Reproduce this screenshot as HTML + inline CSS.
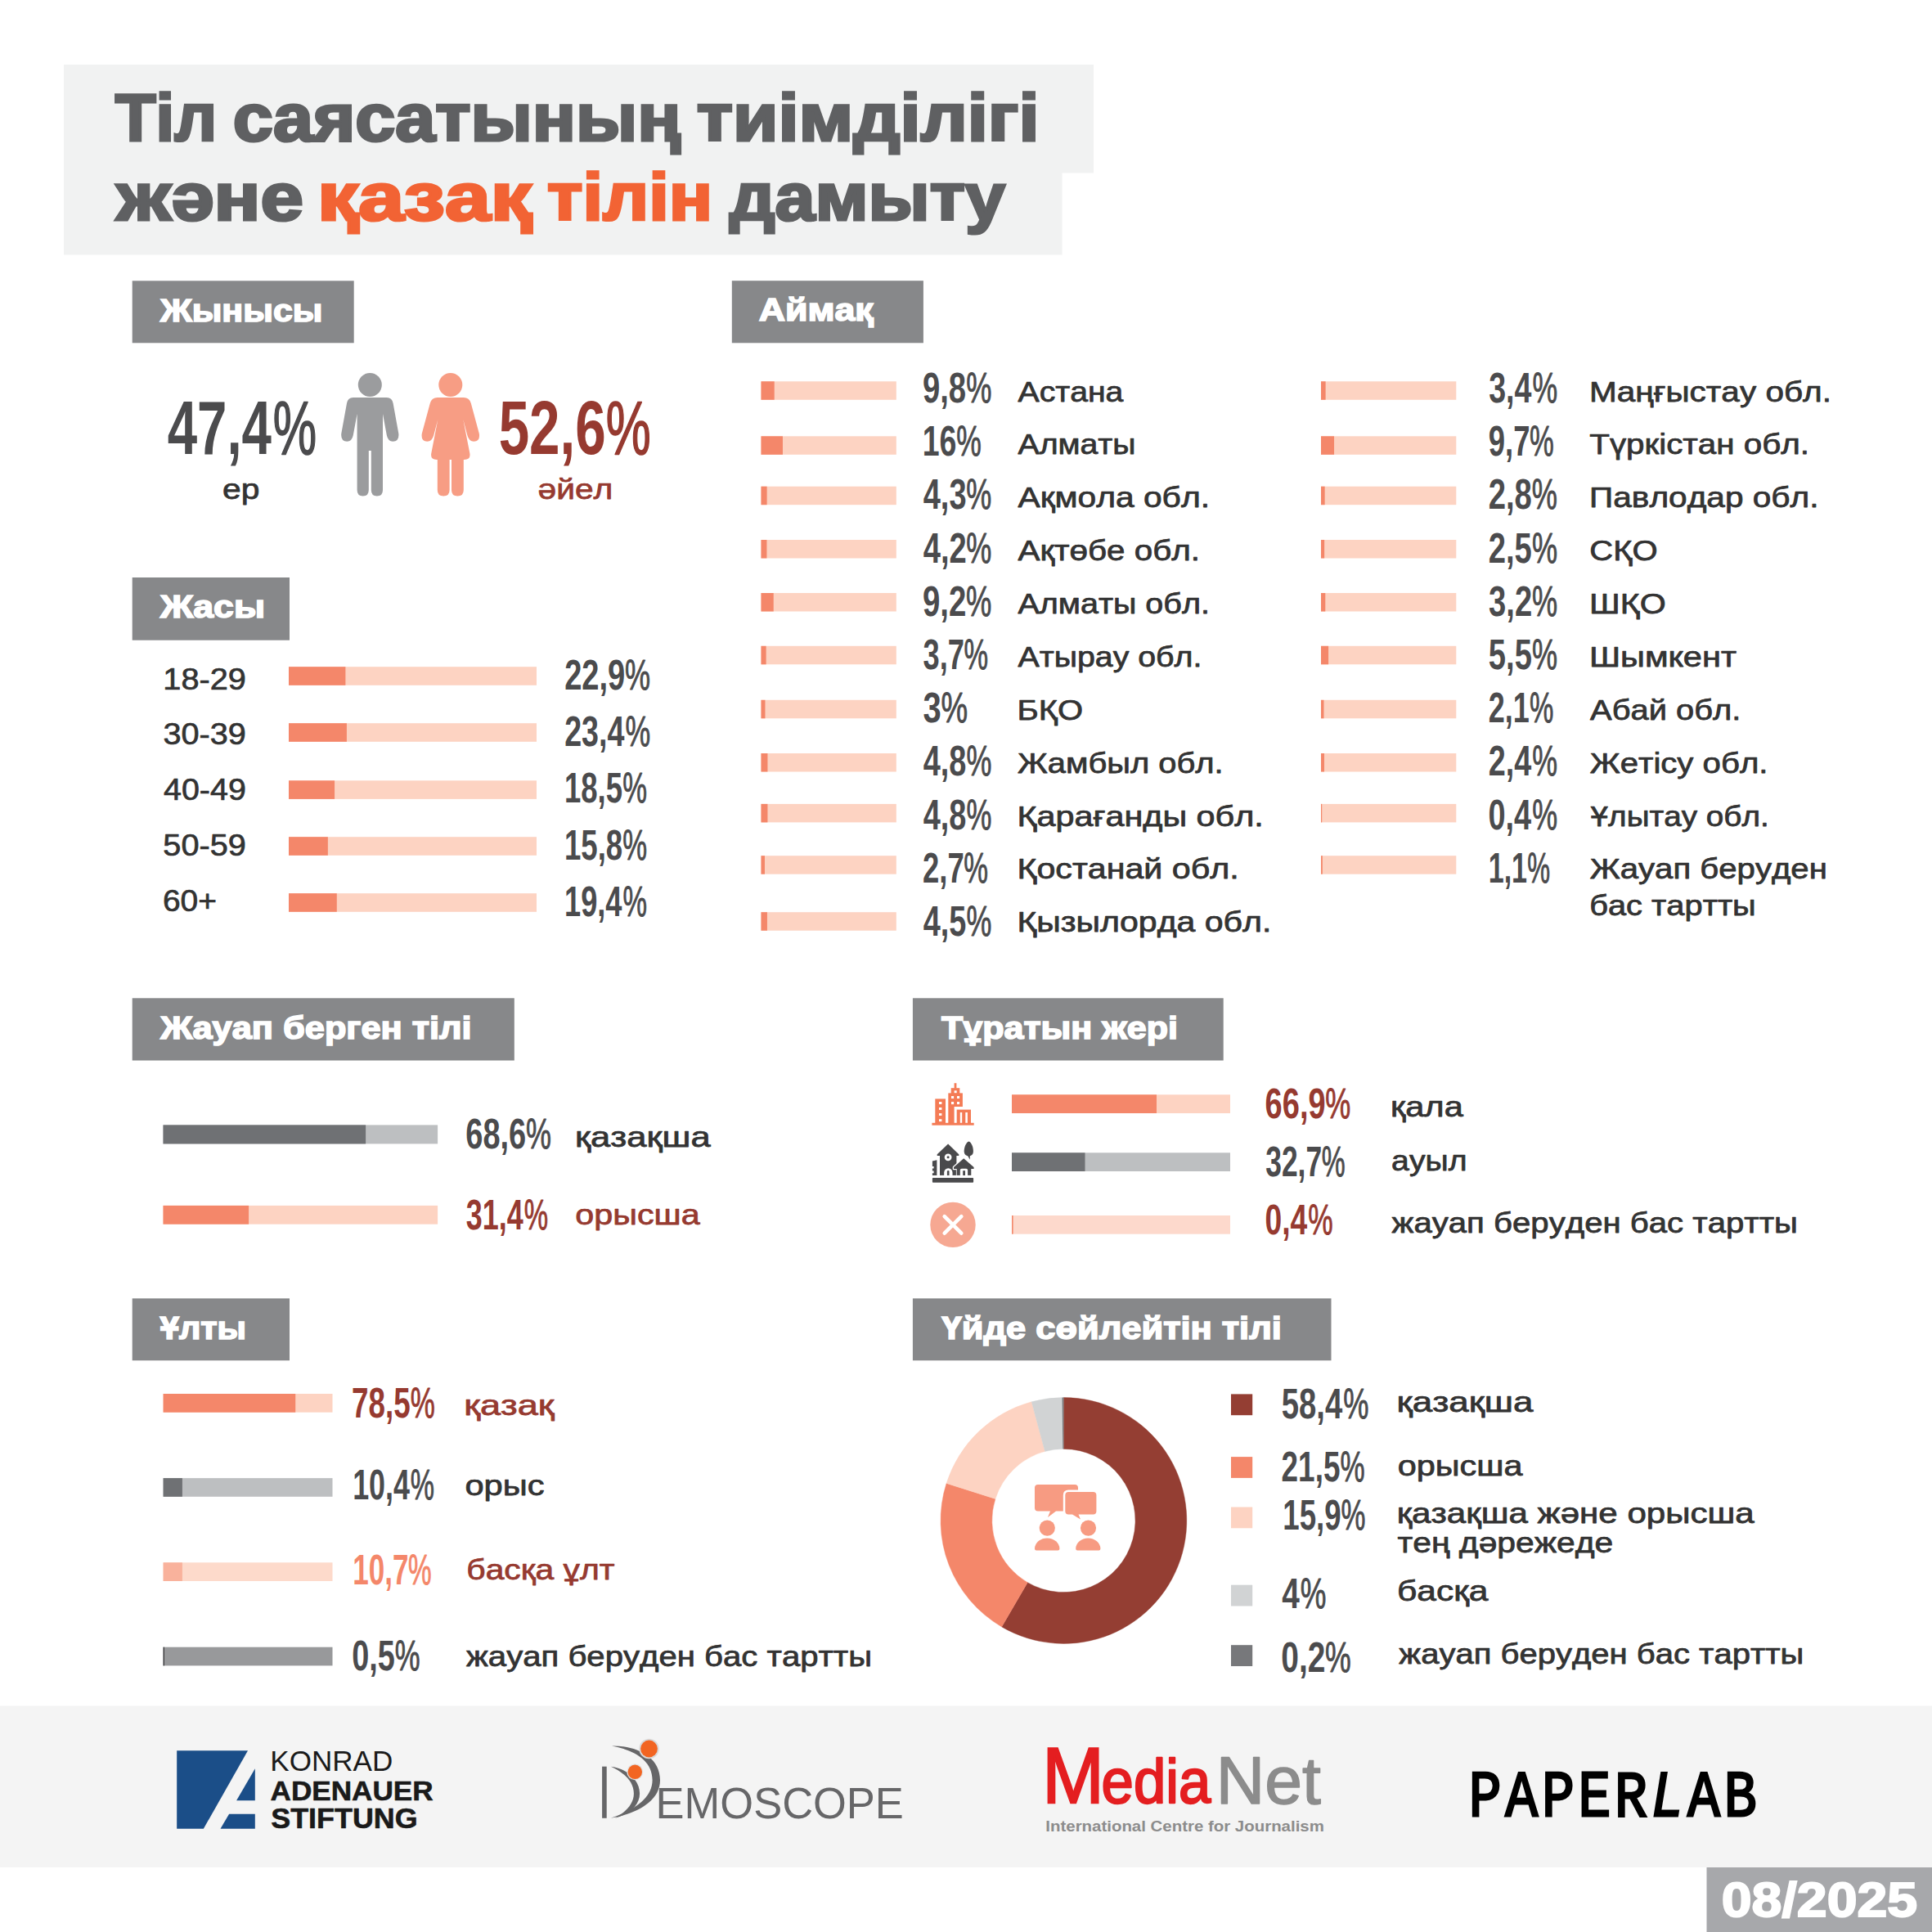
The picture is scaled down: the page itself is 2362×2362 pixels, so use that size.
<!DOCTYPE html>
<html lang="kk"><head><meta charset="utf-8"><title>Тіл саясатының тиімділігі</title>
<style>
html,body{margin:0;padding:0;background:#fff;}
body{width:2362px;height:2362px;overflow:hidden;font-family:"Liberation Sans",sans-serif;}
svg{display:block}
text{font-kerning:none;white-space:pre;}
</style></head><body>
<svg width="2362" height="2362" viewBox="0 0 2362 2362">
<rect x="78.00" y="79.00" width="1259.00" height="132.50" fill="#f1f2f2"/>
<rect x="78.00" y="211.00" width="1220.50" height="100.50" fill="#f1f2f2"/>
<text x="140.68" y="171.70" font-size="81.1" font-weight="700" fill="#5f6062" textLength="124.42" lengthAdjust="spacingAndGlyphs" style="font-family:'Liberation Sans', sans-serif;" stroke="#5f6062" stroke-width="3.2" stroke-linejoin="miter" stroke-miterlimit="2.5">Тіл</text>
<text x="284.86" y="171.70" font-size="81.1" font-weight="700" fill="#5f6062" textLength="547.66" lengthAdjust="spacingAndGlyphs" style="font-family:'Liberation Sans', sans-serif;" stroke="#5f6062" stroke-width="3.2" stroke-linejoin="miter" stroke-miterlimit="2.5">саясатының</text>
<text x="851.75" y="171.70" font-size="81.1" font-weight="700" fill="#5f6062" textLength="418.74" lengthAdjust="spacingAndGlyphs" style="font-family:'Liberation Sans', sans-serif;" stroke="#5f6062" stroke-width="3.2" stroke-linejoin="miter" stroke-miterlimit="2.5">тиімділігі</text>
<text x="142.38" y="269.40" font-size="81.1" font-weight="700" fill="#5f6062" textLength="228.54" lengthAdjust="spacingAndGlyphs" style="font-family:'Liberation Sans', sans-serif;" stroke="#5f6062" stroke-width="3.2" stroke-linejoin="miter" stroke-miterlimit="2.5">және</text>
<text x="387.94" y="269.40" font-size="81.1" font-weight="700" fill="#f26334" textLength="262.16" lengthAdjust="spacingAndGlyphs" style="font-family:'Liberation Sans', sans-serif;" stroke="#f26334" stroke-width="3.2" stroke-linejoin="miter" stroke-miterlimit="2.5">қазақ</text>
<text x="669.09" y="269.40" font-size="81.1" font-weight="700" fill="#f26334" textLength="202.19" lengthAdjust="spacingAndGlyphs" style="font-family:'Liberation Sans', sans-serif;" stroke="#f26334" stroke-width="3.2" stroke-linejoin="miter" stroke-miterlimit="2.5">тілін</text>
<text x="891.70" y="269.40" font-size="81.1" font-weight="700" fill="#5f6062" textLength="337.17" lengthAdjust="spacingAndGlyphs" style="font-family:'Liberation Sans', sans-serif;" stroke="#5f6062" stroke-width="3.2" stroke-linejoin="miter" stroke-miterlimit="2.5">дамыту</text>
<rect x="161.70" y="343.30" width="271.00" height="76.00" fill="#87888a"/>
<text x="195.93" y="392.50" font-size="38.37" font-weight="700" fill="#ffffff" textLength="198.57" lengthAdjust="spacingAndGlyphs" style="font-family:'Liberation Sans', sans-serif;" stroke="#ffffff" stroke-width="1.6" stroke-linejoin="miter" stroke-miterlimit="2.5">Жынысы</text>
<rect x="894.80" y="343.20" width="234.10" height="76.10" fill="#87888a"/>
<text x="927.69" y="392.40" font-size="38.37" font-weight="700" fill="#ffffff" textLength="140.01" lengthAdjust="spacingAndGlyphs" style="font-family:'Liberation Sans', sans-serif;" stroke="#ffffff" stroke-width="1.6" stroke-linejoin="miter" stroke-miterlimit="2.5">Аймақ</text>
<rect x="161.70" y="706.00" width="192.30" height="76.70" fill="#87888a"/>
<text x="195.93" y="755.20" font-size="38.37" font-weight="700" fill="#ffffff" textLength="128.09" lengthAdjust="spacingAndGlyphs" style="font-family:'Liberation Sans', sans-serif;" stroke="#ffffff" stroke-width="1.6" stroke-linejoin="miter" stroke-miterlimit="2.5">Жасы</text>
<rect x="161.70" y="1220.30" width="467.10" height="76.20" fill="#87888a"/>
<text x="196.23" y="1269.50" font-size="38.37" font-weight="700" fill="#ffffff" textLength="380.44" lengthAdjust="spacingAndGlyphs" style="font-family:'Liberation Sans', sans-serif;" stroke="#ffffff" stroke-width="1.6" stroke-linejoin="miter" stroke-miterlimit="2.5">Жауап берген тілі</text>
<rect x="1115.90" y="1220.30" width="379.80" height="76.20" fill="#87888a"/>
<text x="1151.02" y="1269.50" font-size="38.37" font-weight="700" fill="#ffffff" textLength="288.93" lengthAdjust="spacingAndGlyphs" style="font-family:'Liberation Sans', sans-serif;" stroke="#ffffff" stroke-width="1.6" stroke-linejoin="miter" stroke-miterlimit="2.5">Тұратын жері</text>
<rect x="161.70" y="1587.40" width="192.30" height="75.90" fill="#87888a"/>
<text x="195.80" y="1636.60" font-size="38.37" font-weight="700" fill="#ffffff" textLength="105.30" lengthAdjust="spacingAndGlyphs" style="font-family:'Liberation Sans', sans-serif;" stroke="#ffffff" stroke-width="1.6" stroke-linejoin="miter" stroke-miterlimit="2.5">Ұлты</text>
<rect x="1115.90" y="1587.40" width="511.60" height="75.90" fill="#87888a"/>
<text x="1151.50" y="1636.60" font-size="38.37" font-weight="700" fill="#ffffff" textLength="415.38" lengthAdjust="spacingAndGlyphs" style="font-family:'Liberation Sans', sans-serif;" stroke="#ffffff" stroke-width="1.6" stroke-linejoin="miter" stroke-miterlimit="2.5">Үйде сөйлейтін тілі</text>
<text style="font-family:'Liberation Sans', sans-serif"><tspan x="204.71" y="554.50" font-size="92.5" font-weight="700" fill="#4b4b4d" textLength="127.28" lengthAdjust="spacingAndGlyphs">47,4</tspan><tspan x="333.83" y="554.50" font-size="92.5" font-weight="400" fill="#4b4b4d" textLength="53.30" lengthAdjust="spacingAndGlyphs" stroke="#4b4b4d" stroke-width="1.66" stroke-linejoin="round" stroke-miterlimit="2.5">%</tspan></text>
<text style="font-family:'Liberation Sans', sans-serif"><tspan x="609.63" y="554.50" font-size="92.5" font-weight="700" fill="#963a30" textLength="131.22" lengthAdjust="spacingAndGlyphs">52,6</tspan><tspan x="740.65" y="554.50" font-size="92.5" font-weight="400" fill="#963a30" textLength="54.95" lengthAdjust="spacingAndGlyphs" stroke="#963a30" stroke-width="1.66" stroke-linejoin="round" stroke-miterlimit="2.5">%</tspan></text>
<text x="272.07" y="610.00" font-size="34.5" font-weight="400" fill="#333333" textLength="45.34" lengthAdjust="spacingAndGlyphs" style="font-family:'Liberation Sans', sans-serif;" stroke="#333333" stroke-width="0.75" stroke-linejoin="round" stroke-miterlimit="2.5">ер</text>
<text x="657.47" y="610.00" font-size="34.5" font-weight="400" fill="#963a30" textLength="91.86" lengthAdjust="spacingAndGlyphs" style="font-family:'Liberation Sans', sans-serif;" stroke="#963a30" stroke-width="0.75" stroke-linejoin="round" stroke-miterlimit="2.5">әйел</text>
<g fill="#9b9c9e" stroke="none"><circle cx="452.3" cy="470.4" r="14.5"/><path d="M431.8 486 H472.8 Q479.3 486 480.6 493 L487.3 530 Q488.3 539.7 480.3 539.7 Q474.3 539.7 472.8 532 L468.0 506 V599 Q468.0 606.5 460.90000000000003 606.5 Q453.8 606.5 453.8 599 V551 H450.8 V599 Q450.8 606.5 443.7 606.5 Q436.6 606.5 436.6 599 V506 L431.8 532 Q430.3 539.7 424.3 539.7 Q416.3 539.7 417.3 530 L424.0 493 Q425.3 486 431.8 486Z"/></g>
<g fill="#f79d84" stroke="none"><circle cx="550.8" cy="470.4" r="14.5"/><path d="M534.8 486 H566.8 Q573.8 486 575.8 493 L585.8 530 Q587.3 539.7 579.3 539.7 Q573.3 539.7 571.3 532 L566.3 513 L574.3 554 Q575.8 562 567.8 562 H566.8 V599 Q566.8 606.5 559.4 606.5 Q552.0 606.5 552.0 599 V562 H549.5999999999999 V599 Q549.5999999999999 606.5 542.1999999999999 606.5 Q534.8 606.5 534.8 599 V562 H533.8 Q525.8 562 527.3 554 L535.3 513 L530.3 532 Q528.3 539.7 522.3 539.7 Q514.3 539.7 515.8 530 L525.8 493 Q527.8 486 534.8 486Z"/></g>
<rect x="353.00" y="815.20" width="303.00" height="22.60" fill="#fdd3c2"/>
<rect x="353.00" y="815.20" width="69.39" height="22.60" fill="#f4876a"/>
<text x="199.33" y="842.50" font-size="37" font-weight="400" fill="#333333" textLength="101.50" lengthAdjust="spacingAndGlyphs" style="font-family:'Liberation Sans', sans-serif;" stroke="#333333" stroke-width="0.7" stroke-linejoin="round" stroke-miterlimit="2.5">18-29</text>
<text style="font-family:'Liberation Sans', sans-serif"><tspan x="690.18" y="843.00" font-size="52.0" font-weight="700" fill="#4b4b4d" textLength="74.14" lengthAdjust="spacingAndGlyphs">22,9</tspan><tspan x="764.10" y="843.00" font-size="52" font-weight="400" fill="#4b4b4d" textLength="31.05" lengthAdjust="spacingAndGlyphs" stroke="#4b4b4d" stroke-width="0.94" stroke-linejoin="round" stroke-miterlimit="2.5">%</tspan></text>
<rect x="353.00" y="884.20" width="303.00" height="22.60" fill="#fdd3c2"/>
<rect x="353.00" y="884.20" width="70.90" height="22.60" fill="#f4876a"/>
<text x="199.44" y="910.30" font-size="37" font-weight="400" fill="#333333" textLength="101.39" lengthAdjust="spacingAndGlyphs" style="font-family:'Liberation Sans', sans-serif;" stroke="#333333" stroke-width="0.7" stroke-linejoin="round" stroke-miterlimit="2.5">30-39</text>
<text style="font-family:'Liberation Sans', sans-serif"><tspan x="690.19" y="912.20" font-size="52.0" font-weight="700" fill="#4b4b4d" textLength="73.27" lengthAdjust="spacingAndGlyphs">23,4</tspan><tspan x="764.45" y="912.20" font-size="52" font-weight="400" fill="#4b4b4d" textLength="30.68" lengthAdjust="spacingAndGlyphs" stroke="#4b4b4d" stroke-width="0.94" stroke-linejoin="round" stroke-miterlimit="2.5">%</tspan></text>
<rect x="353.00" y="954.30" width="303.00" height="22.60" fill="#fdd3c2"/>
<rect x="353.00" y="954.30" width="56.05" height="22.60" fill="#f4876a"/>
<text x="200.05" y="978.10" font-size="37" font-weight="400" fill="#333333" textLength="100.77" lengthAdjust="spacingAndGlyphs" style="font-family:'Liberation Sans', sans-serif;" stroke="#333333" stroke-width="0.7" stroke-linejoin="round" stroke-miterlimit="2.5">40-49</text>
<text style="font-family:'Liberation Sans', sans-serif"><tspan x="690.00" y="981.40" font-size="52.0" font-weight="700" fill="#4b4b4d" textLength="71.05" lengthAdjust="spacingAndGlyphs">18,5</tspan><tspan x="761.19" y="981.40" font-size="52" font-weight="400" fill="#4b4b4d" textLength="29.75" lengthAdjust="spacingAndGlyphs" stroke="#4b4b4d" stroke-width="0.94" stroke-linejoin="round" stroke-miterlimit="2.5">%</tspan></text>
<rect x="353.00" y="1023.20" width="303.00" height="22.60" fill="#fdd3c2"/>
<rect x="353.00" y="1023.20" width="47.87" height="22.60" fill="#f4876a"/>
<text x="199.36" y="1045.90" font-size="37" font-weight="400" fill="#333333" textLength="101.47" lengthAdjust="spacingAndGlyphs" style="font-family:'Liberation Sans', sans-serif;" stroke="#333333" stroke-width="0.7" stroke-linejoin="round" stroke-miterlimit="2.5">50-59</text>
<text style="font-family:'Liberation Sans', sans-serif"><tspan x="690.00" y="1050.60" font-size="52.0" font-weight="700" fill="#4b4b4d" textLength="71.13" lengthAdjust="spacingAndGlyphs">15,8</tspan><tspan x="761.16" y="1050.60" font-size="52" font-weight="400" fill="#4b4b4d" textLength="29.79" lengthAdjust="spacingAndGlyphs" stroke="#4b4b4d" stroke-width="0.94" stroke-linejoin="round" stroke-miterlimit="2.5">%</tspan></text>
<rect x="353.00" y="1092.20" width="303.00" height="22.60" fill="#fdd3c2"/>
<rect x="353.00" y="1092.20" width="58.78" height="22.60" fill="#f4876a"/>
<text x="198.97" y="1113.70" font-size="37" font-weight="400" fill="#333333" textLength="65.99" lengthAdjust="spacingAndGlyphs" style="font-family:'Liberation Sans', sans-serif;" stroke="#333333" stroke-width="0.7" stroke-linejoin="round" stroke-miterlimit="2.5">60+</text>
<text style="font-family:'Liberation Sans', sans-serif"><tspan x="690.02" y="1119.80" font-size="52.0" font-weight="700" fill="#4b4b4d" textLength="70.45" lengthAdjust="spacingAndGlyphs">19,4</tspan><tspan x="761.43" y="1119.80" font-size="52" font-weight="400" fill="#4b4b4d" textLength="29.50" lengthAdjust="spacingAndGlyphs" stroke="#4b4b4d" stroke-width="0.94" stroke-linejoin="round" stroke-miterlimit="2.5">%</tspan></text>
<rect x="930.50" y="466.30" width="165.30" height="22.50" fill="#fdd3c2"/>
<rect x="930.50" y="466.30" width="16.20" height="22.50" fill="#f4876a"/>
<text style="font-family:'Liberation Sans', sans-serif"><tspan x="1127.97" y="492.00" font-size="52.0" font-weight="700" fill="#4b4b4d" textLength="53.18" lengthAdjust="spacingAndGlyphs">9,8</tspan><tspan x="1181.17" y="492.00" font-size="52" font-weight="400" fill="#4b4b4d" textLength="31.18" lengthAdjust="spacingAndGlyphs" stroke="#4b4b4d" stroke-width="0.94" stroke-linejoin="round" stroke-miterlimit="2.5">%</tspan></text>
<text x="1244.52" y="490.50" font-size="34.5" font-weight="400" fill="#333333" textLength="128.88" lengthAdjust="spacingAndGlyphs" style="font-family:'Liberation Sans', sans-serif;" stroke="#333333" stroke-width="0.75" stroke-linejoin="round" stroke-miterlimit="2.5">Астана</text>
<rect x="930.50" y="533.30" width="165.30" height="22.50" fill="#fdd3c2"/>
<rect x="930.50" y="533.30" width="26.45" height="22.50" fill="#f4876a"/>
<text style="font-family:'Liberation Sans', sans-serif"><tspan x="1127.74" y="557.21" font-size="52.0" font-weight="700" fill="#4b4b4d" textLength="41.67" lengthAdjust="spacingAndGlyphs">16</tspan><tspan x="1169.24" y="557.21" font-size="52" font-weight="400" fill="#4b4b4d" textLength="30.54" lengthAdjust="spacingAndGlyphs" stroke="#4b4b4d" stroke-width="0.94" stroke-linejoin="round" stroke-miterlimit="2.5">%</tspan></text>
<text x="1244.52" y="555.38" font-size="34.5" font-weight="400" fill="#333333" textLength="144.00" lengthAdjust="spacingAndGlyphs" style="font-family:'Liberation Sans', sans-serif;" stroke="#333333" stroke-width="0.75" stroke-linejoin="round" stroke-miterlimit="2.5">Алматы</text>
<rect x="930.50" y="594.70" width="165.30" height="22.50" fill="#fdd3c2"/>
<rect x="930.50" y="594.70" width="7.11" height="22.50" fill="#f4876a"/>
<text style="font-family:'Liberation Sans', sans-serif"><tspan x="1128.72" y="622.42" font-size="52.0" font-weight="700" fill="#4b4b4d" textLength="52.83" lengthAdjust="spacingAndGlyphs">4,3</tspan><tspan x="1181.37" y="622.42" font-size="52" font-weight="400" fill="#4b4b4d" textLength="30.97" lengthAdjust="spacingAndGlyphs" stroke="#4b4b4d" stroke-width="0.94" stroke-linejoin="round" stroke-miterlimit="2.5">%</tspan></text>
<text x="1244.52" y="620.26" font-size="34.5" font-weight="400" fill="#333333" textLength="234.50" lengthAdjust="spacingAndGlyphs" style="font-family:'Liberation Sans', sans-serif;" stroke="#333333" stroke-width="0.75" stroke-linejoin="round" stroke-miterlimit="2.5">Ақмола обл.</text>
<rect x="930.50" y="660.00" width="165.30" height="22.50" fill="#fdd3c2"/>
<rect x="930.50" y="660.00" width="6.94" height="22.50" fill="#f4876a"/>
<text style="font-family:'Liberation Sans', sans-serif"><tspan x="1128.72" y="687.63" font-size="52.0" font-weight="700" fill="#4b4b4d" textLength="52.92" lengthAdjust="spacingAndGlyphs">4,2</tspan><tspan x="1181.31" y="687.63" font-size="52" font-weight="400" fill="#4b4b4d" textLength="31.03" lengthAdjust="spacingAndGlyphs" stroke="#4b4b4d" stroke-width="0.94" stroke-linejoin="round" stroke-miterlimit="2.5">%</tspan></text>
<text x="1244.52" y="685.14" font-size="34.5" font-weight="400" fill="#333333" textLength="222.46" lengthAdjust="spacingAndGlyphs" style="font-family:'Liberation Sans', sans-serif;" stroke="#333333" stroke-width="0.75" stroke-linejoin="round" stroke-miterlimit="2.5">Ақтөбе обл.</text>
<rect x="930.50" y="725.00" width="165.30" height="22.50" fill="#fdd3c2"/>
<rect x="930.50" y="725.00" width="15.21" height="22.50" fill="#f4876a"/>
<text style="font-family:'Liberation Sans', sans-serif"><tspan x="1127.97" y="752.84" font-size="52.0" font-weight="700" fill="#4b4b4d" textLength="53.41" lengthAdjust="spacingAndGlyphs">9,2</tspan><tspan x="1181.04" y="752.84" font-size="52" font-weight="400" fill="#4b4b4d" textLength="31.32" lengthAdjust="spacingAndGlyphs" stroke="#4b4b4d" stroke-width="0.94" stroke-linejoin="round" stroke-miterlimit="2.5">%</tspan></text>
<text x="1244.52" y="750.02" font-size="34.5" font-weight="400" fill="#333333" textLength="234.38" lengthAdjust="spacingAndGlyphs" style="font-family:'Liberation Sans', sans-serif;" stroke="#333333" stroke-width="0.75" stroke-linejoin="round" stroke-miterlimit="2.5">Алматы обл.</text>
<rect x="930.50" y="789.80" width="165.30" height="22.50" fill="#fdd3c2"/>
<rect x="930.50" y="789.80" width="6.12" height="22.50" fill="#f4876a"/>
<text style="font-family:'Liberation Sans', sans-serif"><tspan x="1128.47" y="818.05" font-size="52.0" font-weight="700" fill="#4b4b4d" textLength="50.40" lengthAdjust="spacingAndGlyphs">3,7</tspan><tspan x="1178.43" y="818.05" font-size="52" font-weight="400" fill="#4b4b4d" textLength="29.55" lengthAdjust="spacingAndGlyphs" stroke="#4b4b4d" stroke-width="0.94" stroke-linejoin="round" stroke-miterlimit="2.5">%</tspan></text>
<text x="1244.52" y="814.90" font-size="34.5" font-weight="400" fill="#333333" textLength="224.86" lengthAdjust="spacingAndGlyphs" style="font-family:'Liberation Sans', sans-serif;" stroke="#333333" stroke-width="0.75" stroke-linejoin="round" stroke-miterlimit="2.5">Атырау обл.</text>
<rect x="930.50" y="855.80" width="165.30" height="22.50" fill="#fdd3c2"/>
<rect x="930.50" y="855.80" width="4.96" height="22.50" fill="#f4876a"/>
<text style="font-family:'Liberation Sans', sans-serif"><tspan x="1128.38" y="883.26" font-size="52.0" font-weight="700" fill="#4b4b4d" textLength="22.24" lengthAdjust="spacingAndGlyphs">3</tspan><tspan x="1150.41" y="883.26" font-size="52" font-weight="400" fill="#4b4b4d" textLength="32.60" lengthAdjust="spacingAndGlyphs" stroke="#4b4b4d" stroke-width="0.94" stroke-linejoin="round" stroke-miterlimit="2.5">%</tspan></text>
<text x="1243.52" y="879.78" font-size="34.5" font-weight="400" fill="#333333" textLength="80.59" lengthAdjust="spacingAndGlyphs" style="font-family:'Liberation Sans', sans-serif;" stroke="#333333" stroke-width="0.75" stroke-linejoin="round" stroke-miterlimit="2.5">БҚО</text>
<rect x="930.50" y="921.00" width="165.30" height="22.50" fill="#fdd3c2"/>
<rect x="930.50" y="921.00" width="7.93" height="22.50" fill="#f4876a"/>
<text style="font-family:'Liberation Sans', sans-serif"><tspan x="1128.73" y="948.47" font-size="52.0" font-weight="700" fill="#4b4b4d" textLength="52.70" lengthAdjust="spacingAndGlyphs">4,8</tspan><tspan x="1181.44" y="948.47" font-size="52" font-weight="400" fill="#4b4b4d" textLength="30.90" lengthAdjust="spacingAndGlyphs" stroke="#4b4b4d" stroke-width="0.94" stroke-linejoin="round" stroke-miterlimit="2.5">%</tspan></text>
<text x="1244.05" y="944.66" font-size="34.5" font-weight="400" fill="#333333" textLength="251.59" lengthAdjust="spacingAndGlyphs" style="font-family:'Liberation Sans', sans-serif;" stroke="#333333" stroke-width="0.75" stroke-linejoin="round" stroke-miterlimit="2.5">Жамбыл обл.</text>
<rect x="930.50" y="982.90" width="165.30" height="22.50" fill="#fdd3c2"/>
<rect x="930.50" y="982.90" width="7.93" height="22.50" fill="#f4876a"/>
<text style="font-family:'Liberation Sans', sans-serif"><tspan x="1128.73" y="1013.68" font-size="52.0" font-weight="700" fill="#4b4b4d" textLength="52.70" lengthAdjust="spacingAndGlyphs">4,8</tspan><tspan x="1181.44" y="1013.68" font-size="52" font-weight="400" fill="#4b4b4d" textLength="30.90" lengthAdjust="spacingAndGlyphs" stroke="#4b4b4d" stroke-width="0.94" stroke-linejoin="round" stroke-miterlimit="2.5">%</tspan></text>
<text x="1243.41" y="1009.54" font-size="34.5" font-weight="400" fill="#333333" textLength="301.46" lengthAdjust="spacingAndGlyphs" style="font-family:'Liberation Sans', sans-serif;" stroke="#333333" stroke-width="0.75" stroke-linejoin="round" stroke-miterlimit="2.5">Қарағанды обл.</text>
<rect x="930.50" y="1046.20" width="165.30" height="22.50" fill="#fdd3c2"/>
<rect x="930.50" y="1046.20" width="4.46" height="22.50" fill="#f4876a"/>
<text style="font-family:'Liberation Sans', sans-serif"><tspan x="1128.04" y="1078.89" font-size="52.0" font-weight="700" fill="#4b4b4d" textLength="50.68" lengthAdjust="spacingAndGlyphs">2,7</tspan><tspan x="1178.27" y="1078.89" font-size="52" font-weight="400" fill="#4b4b4d" textLength="29.72" lengthAdjust="spacingAndGlyphs" stroke="#4b4b4d" stroke-width="0.94" stroke-linejoin="round" stroke-miterlimit="2.5">%</tspan></text>
<text x="1243.42" y="1074.42" font-size="34.5" font-weight="400" fill="#333333" textLength="271.34" lengthAdjust="spacingAndGlyphs" style="font-family:'Liberation Sans', sans-serif;" stroke="#333333" stroke-width="0.75" stroke-linejoin="round" stroke-miterlimit="2.5">Қостанай обл.</text>
<rect x="930.50" y="1115.20" width="165.30" height="22.50" fill="#fdd3c2"/>
<rect x="930.50" y="1115.20" width="7.44" height="22.50" fill="#f4876a"/>
<text style="font-family:'Liberation Sans', sans-serif"><tspan x="1128.73" y="1144.10" font-size="52.0" font-weight="700" fill="#4b4b4d" textLength="52.62" lengthAdjust="spacingAndGlyphs">4,5</tspan><tspan x="1181.48" y="1144.10" font-size="52" font-weight="400" fill="#4b4b4d" textLength="30.85" lengthAdjust="spacingAndGlyphs" stroke="#4b4b4d" stroke-width="0.94" stroke-linejoin="round" stroke-miterlimit="2.5">%</tspan></text>
<text x="1243.44" y="1139.30" font-size="34.5" font-weight="400" fill="#333333" textLength="311.01" lengthAdjust="spacingAndGlyphs" style="font-family:'Liberation Sans', sans-serif;" stroke="#333333" stroke-width="0.75" stroke-linejoin="round" stroke-miterlimit="2.5">Қызылорда обл.</text>
<rect x="1615.00" y="466.30" width="165.30" height="22.50" fill="#fdd3c2"/>
<rect x="1615.00" y="466.30" width="5.62" height="22.50" fill="#f4876a"/>
<text style="font-family:'Liberation Sans', sans-serif"><tspan x="1820.14" y="492.00" font-size="52.0" font-weight="700" fill="#4b4b4d" textLength="52.27" lengthAdjust="spacingAndGlyphs">3,4</tspan><tspan x="1873.38" y="492.00" font-size="52" font-weight="400" fill="#4b4b4d" textLength="30.65" lengthAdjust="spacingAndGlyphs" stroke="#4b4b4d" stroke-width="0.94" stroke-linejoin="round" stroke-miterlimit="2.5">%</tspan></text>
<text x="1943.08" y="490.50" font-size="34.5" font-weight="400" fill="#333333" textLength="295.92" lengthAdjust="spacingAndGlyphs" style="font-family:'Liberation Sans', sans-serif;" stroke="#333333" stroke-width="0.75" stroke-linejoin="round" stroke-miterlimit="2.5">Маңғыстау обл.</text>
<rect x="1615.00" y="533.30" width="165.30" height="22.50" fill="#fdd3c2"/>
<rect x="1615.00" y="533.30" width="16.03" height="22.50" fill="#f4876a"/>
<text style="font-family:'Liberation Sans', sans-serif"><tspan x="1819.74" y="557.21" font-size="52.0" font-weight="700" fill="#4b4b4d" textLength="50.68" lengthAdjust="spacingAndGlyphs">9,7</tspan><tspan x="1869.97" y="557.21" font-size="52" font-weight="400" fill="#4b4b4d" textLength="29.72" lengthAdjust="spacingAndGlyphs" stroke="#4b4b4d" stroke-width="0.94" stroke-linejoin="round" stroke-miterlimit="2.5">%</tspan></text>
<text x="1943.29" y="555.38" font-size="34.5" font-weight="400" fill="#333333" textLength="268.79" lengthAdjust="spacingAndGlyphs" style="font-family:'Liberation Sans', sans-serif;" stroke="#333333" stroke-width="0.75" stroke-linejoin="round" stroke-miterlimit="2.5">Түркістан обл.</text>
<rect x="1615.00" y="594.70" width="165.30" height="22.50" fill="#fdd3c2"/>
<rect x="1615.00" y="594.70" width="4.63" height="22.50" fill="#f4876a"/>
<text style="font-family:'Liberation Sans', sans-serif"><tspan x="1819.67" y="622.42" font-size="52.0" font-weight="700" fill="#4b4b4d" textLength="53.18" lengthAdjust="spacingAndGlyphs">2,8</tspan><tspan x="1872.87" y="622.42" font-size="52" font-weight="400" fill="#4b4b4d" textLength="31.18" lengthAdjust="spacingAndGlyphs" stroke="#4b4b4d" stroke-width="0.94" stroke-linejoin="round" stroke-miterlimit="2.5">%</tspan></text>
<text x="1943.11" y="620.26" font-size="34.5" font-weight="400" fill="#333333" textLength="280.39" lengthAdjust="spacingAndGlyphs" style="font-family:'Liberation Sans', sans-serif;" stroke="#333333" stroke-width="0.75" stroke-linejoin="round" stroke-miterlimit="2.5">Павлодар обл.</text>
<rect x="1615.00" y="660.00" width="165.30" height="22.50" fill="#fdd3c2"/>
<rect x="1615.00" y="660.00" width="4.13" height="22.50" fill="#f4876a"/>
<text style="font-family:'Liberation Sans', sans-serif"><tspan x="1819.68" y="687.63" font-size="52.0" font-weight="700" fill="#4b4b4d" textLength="53.11" lengthAdjust="spacingAndGlyphs">2,5</tspan><tspan x="1872.91" y="687.63" font-size="52" font-weight="400" fill="#4b4b4d" textLength="31.14" lengthAdjust="spacingAndGlyphs" stroke="#4b4b4d" stroke-width="0.94" stroke-linejoin="round" stroke-miterlimit="2.5">%</tspan></text>
<text x="1943.37" y="685.14" font-size="34.5" font-weight="400" fill="#333333" textLength="83.35" lengthAdjust="spacingAndGlyphs" style="font-family:'Liberation Sans', sans-serif;" stroke="#333333" stroke-width="0.75" stroke-linejoin="round" stroke-miterlimit="2.5">СҚО</text>
<rect x="1615.00" y="725.00" width="165.30" height="22.50" fill="#fdd3c2"/>
<rect x="1615.00" y="725.00" width="5.29" height="22.50" fill="#f4876a"/>
<text style="font-family:'Liberation Sans', sans-serif"><tspan x="1820.12" y="752.84" font-size="52.0" font-weight="700" fill="#4b4b4d" textLength="53.12" lengthAdjust="spacingAndGlyphs">3,2</tspan><tspan x="1872.90" y="752.84" font-size="52" font-weight="400" fill="#4b4b4d" textLength="31.14" lengthAdjust="spacingAndGlyphs" stroke="#4b4b4d" stroke-width="0.94" stroke-linejoin="round" stroke-miterlimit="2.5">%</tspan></text>
<text x="1943.02" y="750.02" font-size="34.5" font-weight="400" fill="#333333" textLength="93.75" lengthAdjust="spacingAndGlyphs" style="font-family:'Liberation Sans', sans-serif;" stroke="#333333" stroke-width="0.75" stroke-linejoin="round" stroke-miterlimit="2.5">ШҚО</text>
<rect x="1615.00" y="789.80" width="165.30" height="22.50" fill="#fdd3c2"/>
<rect x="1615.00" y="789.80" width="9.09" height="22.50" fill="#f4876a"/>
<text style="font-family:'Liberation Sans', sans-serif"><tspan x="1819.83" y="818.05" font-size="52.0" font-weight="700" fill="#4b4b4d" textLength="53.01" lengthAdjust="spacingAndGlyphs">5,5</tspan><tspan x="1872.97" y="818.05" font-size="52" font-weight="400" fill="#4b4b4d" textLength="31.08" lengthAdjust="spacingAndGlyphs" stroke="#4b4b4d" stroke-width="0.94" stroke-linejoin="round" stroke-miterlimit="2.5">%</tspan></text>
<text x="1942.99" y="814.90" font-size="34.5" font-weight="400" fill="#333333" textLength="180.02" lengthAdjust="spacingAndGlyphs" style="font-family:'Liberation Sans', sans-serif;" stroke="#333333" stroke-width="0.75" stroke-linejoin="round" stroke-miterlimit="2.5">Шымкент</text>
<rect x="1615.00" y="855.80" width="165.30" height="22.50" fill="#fdd3c2"/>
<rect x="1615.00" y="855.80" width="3.47" height="22.50" fill="#f4876a"/>
<text style="font-family:'Liberation Sans', sans-serif"><tspan x="1819.75" y="883.26" font-size="52.0" font-weight="700" fill="#4b4b4d" textLength="50.07" lengthAdjust="spacingAndGlyphs">2,1</tspan><tspan x="1869.97" y="883.26" font-size="52" font-weight="400" fill="#4b4b4d" textLength="29.36" lengthAdjust="spacingAndGlyphs" stroke="#4b4b4d" stroke-width="0.94" stroke-linejoin="round" stroke-miterlimit="2.5">%</tspan></text>
<text x="1944.12" y="879.78" font-size="34.5" font-weight="400" fill="#333333" textLength="184.32" lengthAdjust="spacingAndGlyphs" style="font-family:'Liberation Sans', sans-serif;" stroke="#333333" stroke-width="0.75" stroke-linejoin="round" stroke-miterlimit="2.5">Абай обл.</text>
<rect x="1615.00" y="921.00" width="165.30" height="22.50" fill="#fdd3c2"/>
<rect x="1615.00" y="921.00" width="3.97" height="22.50" fill="#f4876a"/>
<text style="font-family:'Liberation Sans', sans-serif"><tspan x="1819.69" y="948.47" font-size="52.0" font-weight="700" fill="#4b4b4d" textLength="52.55" lengthAdjust="spacingAndGlyphs">2,4</tspan><tspan x="1873.22" y="948.47" font-size="52" font-weight="400" fill="#4b4b4d" textLength="30.81" lengthAdjust="spacingAndGlyphs" stroke="#4b4b4d" stroke-width="0.94" stroke-linejoin="round" stroke-miterlimit="2.5">%</tspan></text>
<text x="1943.65" y="944.66" font-size="34.5" font-weight="400" fill="#333333" textLength="217.81" lengthAdjust="spacingAndGlyphs" style="font-family:'Liberation Sans', sans-serif;" stroke="#333333" stroke-width="0.75" stroke-linejoin="round" stroke-miterlimit="2.5">Жетісу обл.</text>
<rect x="1615.00" y="982.90" width="165.30" height="22.50" fill="#fdd3c2"/>
<rect x="1615.00" y="982.90" width="1.20" height="22.50" fill="#f4876a"/>
<text style="font-family:'Liberation Sans', sans-serif"><tspan x="1819.50" y="1013.68" font-size="52.0" font-weight="700" fill="#4b4b4d" textLength="52.67" lengthAdjust="spacingAndGlyphs">0,4</tspan><tspan x="1873.16" y="1013.68" font-size="52" font-weight="400" fill="#4b4b4d" textLength="30.88" lengthAdjust="spacingAndGlyphs" stroke="#4b4b4d" stroke-width="0.94" stroke-linejoin="round" stroke-miterlimit="2.5">%</tspan></text>
<text x="1944.62" y="1009.54" font-size="34.5" font-weight="400" fill="#333333" textLength="218.21" lengthAdjust="spacingAndGlyphs" style="font-family:'Liberation Sans', sans-serif;" stroke="#333333" stroke-width="0.75" stroke-linejoin="round" stroke-miterlimit="2.5">Ұлытау обл.</text>
<rect x="1615.00" y="1046.20" width="165.30" height="22.50" fill="#fdd3c2"/>
<rect x="1615.00" y="1046.20" width="1.82" height="22.50" fill="#f4876a"/>
<text style="font-family:'Liberation Sans', sans-serif"><tspan x="1819.65" y="1078.89" font-size="52.0" font-weight="700" fill="#4b4b4d" textLength="47.47" lengthAdjust="spacingAndGlyphs">1,1</tspan><tspan x="1867.28" y="1078.89" font-size="52" font-weight="400" fill="#4b4b4d" textLength="27.83" lengthAdjust="spacingAndGlyphs" stroke="#4b4b4d" stroke-width="0.94" stroke-linejoin="round" stroke-miterlimit="2.5">%</tspan></text>
<text x="1943.65" y="1074.42" font-size="34.5" font-weight="400" fill="#333333" textLength="290.23" lengthAdjust="spacingAndGlyphs" style="font-family:'Liberation Sans', sans-serif;" stroke="#333333" stroke-width="0.75" stroke-linejoin="round" stroke-miterlimit="2.5">Жауап беруден</text>
<text x="1943.17" y="1119.00" font-size="34.5" font-weight="400" fill="#333333" textLength="203.60" lengthAdjust="spacingAndGlyphs" style="font-family:'Liberation Sans', sans-serif;" stroke="#333333" stroke-width="0.75" stroke-linejoin="round" stroke-miterlimit="2.5">бас тартты</text>
<rect x="199.50" y="1375.40" width="335.60" height="23.00" fill="#bdbfc1"/>
<rect x="199.50" y="1375.40" width="247.60" height="23.00" fill="#6f7174"/>
<rect x="199.50" y="1473.90" width="335.60" height="22.80" fill="#fdd3c2"/>
<rect x="199.50" y="1473.90" width="104.60" height="22.80" fill="#f4876a"/>
<text style="font-family:'Liberation Sans', sans-serif"><tspan x="569.31" y="1404.00" font-size="52.0" font-weight="700" fill="#4b4b4d" textLength="73.88" lengthAdjust="spacingAndGlyphs">68,6</tspan><tspan x="643.00" y="1404.00" font-size="52" font-weight="400" fill="#4b4b4d" textLength="30.94" lengthAdjust="spacingAndGlyphs" stroke="#4b4b4d" stroke-width="0.94" stroke-linejoin="round" stroke-miterlimit="2.5">%</tspan></text>
<text style="font-family:'Liberation Sans', sans-serif"><tspan x="569.87" y="1502.80" font-size="52.0" font-weight="700" fill="#963a30" textLength="70.02" lengthAdjust="spacingAndGlyphs">31,4</tspan><tspan x="640.85" y="1502.80" font-size="52" font-weight="400" fill="#963a30" textLength="29.32" lengthAdjust="spacingAndGlyphs" stroke="#963a30" stroke-width="0.94" stroke-linejoin="round" stroke-miterlimit="2.5">%</tspan></text>
<text x="703.07" y="1402.20" font-size="34.5" font-weight="400" fill="#333333" textLength="165.63" lengthAdjust="spacingAndGlyphs" style="font-family:'Liberation Sans', sans-serif;" stroke="#333333" stroke-width="0.75" stroke-linejoin="round" stroke-miterlimit="2.5">қазақша</text>
<text x="703.37" y="1497.20" font-size="34.5" font-weight="400" fill="#963a30" textLength="152.23" lengthAdjust="spacingAndGlyphs" style="font-family:'Liberation Sans', sans-serif;" stroke="#963a30" stroke-width="0.75" stroke-linejoin="round" stroke-miterlimit="2.5">орысша</text>
<rect x="199.60" y="1704.00" width="206.90" height="22.70" fill="#fdd3c2"/>
<rect x="199.60" y="1704.00" width="161.60" height="22.70" fill="#f4876a"/>
<rect x="199.60" y="1807.10" width="206.90" height="22.70" fill="#bdbfc1"/>
<rect x="199.60" y="1807.10" width="23.30" height="22.70" fill="#6f7174"/>
<rect x="199.60" y="1910.30" width="206.90" height="22.70" fill="#fddacb"/>
<rect x="199.60" y="1910.30" width="23.30" height="22.70" fill="#f9b29c"/>
<rect x="199.60" y="2013.70" width="206.90" height="22.70" fill="#98999b"/>
<rect x="199.60" y="2013.70" width="1.40" height="22.70" fill="#404042"/>
<text style="font-family:'Liberation Sans', sans-serif"><tspan x="430.12" y="1732.80" font-size="52.0" font-weight="700" fill="#963a30" textLength="71.57" lengthAdjust="spacingAndGlyphs">78,5</tspan><tspan x="501.83" y="1732.80" font-size="52" font-weight="400" fill="#963a30" textLength="29.97" lengthAdjust="spacingAndGlyphs" stroke="#963a30" stroke-width="0.94" stroke-linejoin="round" stroke-miterlimit="2.5">%</tspan></text>
<text style="font-family:'Liberation Sans', sans-serif"><tspan x="431.14" y="1833.10" font-size="52.0" font-weight="700" fill="#4b4b4d" textLength="69.76" lengthAdjust="spacingAndGlyphs">10,4</tspan><tspan x="501.86" y="1833.10" font-size="52" font-weight="400" fill="#4b4b4d" textLength="29.22" lengthAdjust="spacingAndGlyphs" stroke="#4b4b4d" stroke-width="0.94" stroke-linejoin="round" stroke-miterlimit="2.5">%</tspan></text>
<text style="font-family:'Liberation Sans', sans-serif"><tspan x="431.19" y="1937.00" font-size="52.0" font-weight="700" fill="#f4876a" textLength="68.20" lengthAdjust="spacingAndGlyphs">10,7</tspan><tspan x="498.98" y="1937.00" font-size="52" font-weight="400" fill="#f4876a" textLength="28.56" lengthAdjust="spacingAndGlyphs" stroke="#f4876a" stroke-width="0.94" stroke-linejoin="round" stroke-miterlimit="2.5">%</tspan></text>
<text style="font-family:'Liberation Sans', sans-serif"><tspan x="430.21" y="2041.50" font-size="52.0" font-weight="700" fill="#4b4b4d" textLength="52.51" lengthAdjust="spacingAndGlyphs">0,5</tspan><tspan x="482.85" y="2041.50" font-size="52" font-weight="400" fill="#4b4b4d" textLength="30.79" lengthAdjust="spacingAndGlyphs" stroke="#4b4b4d" stroke-width="0.94" stroke-linejoin="round" stroke-miterlimit="2.5">%</tspan></text>
<text x="567.16" y="1730.30" font-size="34.5" font-weight="400" fill="#963a30" textLength="110.42" lengthAdjust="spacingAndGlyphs" style="font-family:'Liberation Sans', sans-serif;" stroke="#963a30" stroke-width="0.75" stroke-linejoin="round" stroke-miterlimit="2.5">қазақ</text>
<text x="568.45" y="1827.80" font-size="34.5" font-weight="400" fill="#333333" textLength="97.15" lengthAdjust="spacingAndGlyphs" style="font-family:'Liberation Sans', sans-serif;" stroke="#333333" stroke-width="0.75" stroke-linejoin="round" stroke-miterlimit="2.5">орыс</text>
<text x="570.31" y="1930.60" font-size="34.5" font-weight="400" fill="#963a30" textLength="181.19" lengthAdjust="spacingAndGlyphs" style="font-family:'Liberation Sans', sans-serif;" stroke="#963a30" stroke-width="0.75" stroke-linejoin="round" stroke-miterlimit="2.5">басқа ұлт</text>
<text x="570.06" y="2037.30" font-size="34.5" font-weight="400" fill="#333333" textLength="496.02" lengthAdjust="spacingAndGlyphs" style="font-family:'Liberation Sans', sans-serif;" stroke="#333333" stroke-width="0.75" stroke-linejoin="round" stroke-miterlimit="2.5">жауап беруден бас тартты</text>
<rect x="1237.00" y="1338.30" width="267.00" height="22.70" fill="#fdd3c2"/>
<rect x="1237.00" y="1338.30" width="177.00" height="22.70" fill="#f4876a"/>
<rect x="1237.00" y="1409.30" width="267.00" height="22.70" fill="#bdbfc1"/>
<rect x="1237.00" y="1409.30" width="89.50" height="22.70" fill="#6f7174"/>
<rect x="1237.00" y="1486.00" width="267.00" height="22.70" fill="#fdd9cc"/>
<rect x="1237.00" y="1486.00" width="1.60" height="22.70" fill="#f4876a"/>
<text style="font-family:'Liberation Sans', sans-serif"><tspan x="1546.61" y="1367.00" font-size="52.0" font-weight="700" fill="#963a30" textLength="73.98" lengthAdjust="spacingAndGlyphs">66,9</tspan><tspan x="1620.36" y="1367.00" font-size="52" font-weight="400" fill="#963a30" textLength="30.98" lengthAdjust="spacingAndGlyphs" stroke="#963a30" stroke-width="0.94" stroke-linejoin="round" stroke-miterlimit="2.5">%</tspan></text>
<text style="font-family:'Liberation Sans', sans-serif"><tspan x="1547.19" y="1437.50" font-size="52.0" font-weight="700" fill="#4b4b4d" textLength="68.93" lengthAdjust="spacingAndGlyphs">32,7</tspan><tspan x="1615.69" y="1437.50" font-size="52" font-weight="400" fill="#4b4b4d" textLength="28.86" lengthAdjust="spacingAndGlyphs" stroke="#4b4b4d" stroke-width="0.94" stroke-linejoin="round" stroke-miterlimit="2.5">%</tspan></text>
<text style="font-family:'Liberation Sans', sans-serif"><tspan x="1546.53" y="1509.40" font-size="52.0" font-weight="700" fill="#963a30" textLength="51.77" lengthAdjust="spacingAndGlyphs">0,4</tspan><tspan x="1599.27" y="1509.40" font-size="52" font-weight="400" fill="#963a30" textLength="30.35" lengthAdjust="spacingAndGlyphs" stroke="#963a30" stroke-width="0.94" stroke-linejoin="round" stroke-miterlimit="2.5">%</tspan></text>
<text x="1699.99" y="1364.80" font-size="34.5" font-weight="400" fill="#333333" textLength="88.81" lengthAdjust="spacingAndGlyphs" style="font-family:'Liberation Sans', sans-serif;" stroke="#333333" stroke-width="0.75" stroke-linejoin="round" stroke-miterlimit="2.5">қала</text>
<text x="1701.14" y="1431.10" font-size="34.5" font-weight="400" fill="#333333" textLength="92.38" lengthAdjust="spacingAndGlyphs" style="font-family:'Liberation Sans', sans-serif;" stroke="#333333" stroke-width="0.75" stroke-linejoin="round" stroke-miterlimit="2.5">ауыл</text>
<text x="1701.56" y="1506.80" font-size="34.5" font-weight="400" fill="#333333" textLength="496.42" lengthAdjust="spacingAndGlyphs" style="font-family:'Liberation Sans', sans-serif;" stroke="#333333" stroke-width="0.75" stroke-linejoin="round" stroke-miterlimit="2.5">жауап беруден бас тартты</text>
<g fill="#f47b55">
<rect x="1143.3" y="1343.4" width="12.7" height="30"/>
<rect x="1159.3" y="1336.4" width="17.6" height="36.8"/>
<rect x="1162.7" y="1330.2" width="10.6" height="7"/>
<rect x="1166.6" y="1324.2" width="2.8" height="6.5"/>
<rect x="1166.6" y="1353" width="22" height="20.2" fill="#ffffff"/>
<rect x="1169.7" y="1356.6" width="17.3" height="16.6"/>
</g>
<g fill="#ffffff">
<rect x="1148" y="1347" width="3.4" height="3"/><rect x="1148" y="1354" width="3.4" height="2.9"/><rect x="1148" y="1361.1" width="3.4" height="2.8"/><rect x="1148" y="1368.2" width="3.4" height="2.9"/>
<rect x="1166.6" y="1333.3" width="3.1" height="2.9"/>
<rect x="1163" y="1340" width="3.1" height="3"/><rect x="1170" y="1340" width="3.1" height="3"/>
<rect x="1163" y="1347" width="3.1" height="3.1"/><rect x="1170" y="1347" width="3.1" height="3.1"/>
<rect x="1173.8" y="1360" width="2.4" height="13"/><rect x="1180.3" y="1360" width="2.6" height="13"/>
</g>
<rect x="1139.4" y="1372.8" width="51.3" height="2.9" fill="#f47b55"/>
<g fill="#4a4a4c">
<rect x="1139.9" y="1440" width="50.2" height="5.8" rx="0.8"/>
<path d="M1159.1 1398.6 L1172.3 1411.2 V1413 H1145.7 V1411.2Z"/>
<rect x="1149" y="1411" width="20.4" height="25.9"/>
<path d="M1139.9 1419.6 L1145.4 1418.2 V1436.9 H1139.9 V1434.2 H1141.6 V1431.6 H1139.9 V1428.6 H1141.6 V1426 H1139.9Z"/>
<path d="M1178.2 1416.2 L1190.6 1427 V1429 H1166 V1427Z" stroke="#ffffff" stroke-width="2.6" stroke-linejoin="round"/>
<rect x="1169.7" y="1427.3" width="17.6" height="9.6" stroke="#ffffff" stroke-width="1.6" paint-order="stroke"/>
<path d="M1178.2 1416.2 L1190.6 1427 V1429 H1166 V1427Z"/>
<path d="M1184.4 1395.4 C1187.6 1396.4 1190 1402.5 1189.9 1407.5 C1189.8 1411.6 1187.4 1413.3 1184.4 1413.3 C1181.4 1413.3 1178.8 1411.6 1178.7 1407.5 C1178.6 1402.5 1181.2 1396.4 1184.4 1395.4Z"/>
<path d="M1182.9 1412.8 H1185.8 V1417.8Z"/>
</g>
<g fill="#ffffff">
<circle cx="1159.1" cy="1414.8" r="4.4"/>
<path d="M1154.2 1437 V1433.4 A5.15 5.15 0 0 1 1164.5 1433.4 V1437Z"/>
<path d="M1173.8 1437 V1430.6 Q1173.8 1428.7 1175.7 1428.7 H1181.2 Q1183.1 1428.7 1183.1 1430.6 V1437Z"/>
</g>
<circle cx="1159.1" cy="1414.8" r="1.5" fill="#4a4a4c"/>
<path d="M1157.9 1437 V1432.4 A1.3 1.3 0 0 1 1160.5 1432.4 V1437Z" fill="#4a4a4c"/>
<rect x="1177.2" y="1431.2" width="2.8" height="5.8" fill="#4a4a4c"/>
<circle cx="1165" cy="1497.4" r="27.7" fill="#f6a892"/><path d="M1154.7 1487.1 L1175.3 1507.7 M1175.3 1487.1 L1154.7 1507.7" stroke="#ffffff" stroke-width="4.6" stroke-linecap="round" fill="none"/>
<path d="M1300.40 1708.60 A150.4 150.4 0 1 1 1224.66 1988.93 L1256.28 1934.68 A87.6 87.6 0 1 0 1300.40 1771.40Z" fill="#943e33" stroke="#943e33" stroke-width="0.4"/>
<path d="M1224.66 1988.93 A150.4 150.4 0 0 1 1157.07 1813.42 L1216.92 1832.45 A87.6 87.6 0 0 0 1256.28 1934.68Z" fill="#f4876a" stroke="#f4876a" stroke-width="0.4"/>
<path d="M1157.07 1813.42 A150.4 150.4 0 0 1 1261.17 1713.81 L1277.55 1774.43 A87.6 87.6 0 0 0 1216.92 1832.45Z" fill="#fdd3c2" stroke="#fdd3c2" stroke-width="0.4"/>
<path d="M1261.17 1713.81 A150.4 150.4 0 0 1 1298.51 1708.61 L1299.30 1771.41 A87.6 87.6 0 0 0 1277.55 1774.43Z" fill="#d1d3d4" stroke="#d1d3d4" stroke-width="0.4"/>
<path d="M1298.51 1708.61 A150.4 150.4 0 0 1 1300.40 1708.60 L1300.40 1771.40 A87.6 87.6 0 0 0 1299.30 1771.41Z" fill="#77787b"/>
<g fill="#f79b82">
<path d="M1269 1815.1 H1314 Q1318 1815.1 1318 1819.1 V1843.4 Q1318 1847.4 1314 1847.4 H1291 L1281 1855 L1284 1847.4 H1269 Q1265 1847.4 1265 1843.4 V1819.1 Q1265 1815.1 1269 1815.1Z"/>
<path d="M1306.3 1823.9 H1336.4 Q1340.4 1823.9 1340.4 1827.9 V1847.5 Q1340.4 1851.5 1336.4 1851.5 H1318.5 L1321 1857.5 L1311 1851.5 H1306.3 Q1302.3 1851.5 1302.3 1847.5 V1827.9 Q1302.3 1823.9 1306.3 1823.9Z" stroke="#ffffff" stroke-width="5" paint-order="stroke"/>
<circle cx="1280.3" cy="1868.1" r="9.6"/><circle cx="1330.5" cy="1868.1" r="9.6"/>
<path d="M1265 1893.4 A15.2 13 0 0 1 1295.4 1893.4 Q1295.4 1895.4 1293.4 1895.4 H1267 Q1265 1895.4 1265 1893.4Z"/>
<path d="M1315.2 1893.4 A15.1 13 0 0 1 1345.4 1893.4 Q1345.4 1895.4 1343.4 1895.4 H1317.2 Q1315.2 1895.4 1315.2 1893.4Z"/>
</g>
<rect x="1505.00" y="1704.40" width="26.20" height="25.80" fill="#943e33"/>
<rect x="1505.00" y="1781.10" width="26.20" height="25.80" fill="#f4876a"/>
<rect x="1505.00" y="1842.50" width="26.20" height="25.80" fill="#fdd3c2"/>
<rect x="1505.00" y="1937.70" width="26.20" height="25.80" fill="#d1d3d4"/>
<rect x="1505.00" y="2011.20" width="26.20" height="25.80" fill="#77787b"/>
<text style="font-family:'Liberation Sans', sans-serif"><tspan x="1566.72" y="1733.90" font-size="52.0" font-weight="700" fill="#4b4b4d" textLength="74.46" lengthAdjust="spacingAndGlyphs">58,4</tspan><tspan x="1642.17" y="1733.90" font-size="52" font-weight="400" fill="#4b4b4d" textLength="31.18" lengthAdjust="spacingAndGlyphs" stroke="#4b4b4d" stroke-width="0.94" stroke-linejoin="round" stroke-miterlimit="2.5">%</tspan></text>
<text style="font-family:'Liberation Sans', sans-serif"><tspan x="1566.62" y="1811.00" font-size="52.0" font-weight="700" fill="#4b4b4d" textLength="71.78" lengthAdjust="spacingAndGlyphs">21,5</tspan><tspan x="1638.54" y="1811.00" font-size="52" font-weight="400" fill="#4b4b4d" textLength="30.06" lengthAdjust="spacingAndGlyphs" stroke="#4b4b4d" stroke-width="0.94" stroke-linejoin="round" stroke-miterlimit="2.5">%</tspan></text>
<text style="font-family:'Liberation Sans', sans-serif"><tspan x="1568.29" y="1869.60" font-size="52.0" font-weight="700" fill="#4b4b4d" textLength="71.41" lengthAdjust="spacingAndGlyphs">15,9</tspan><tspan x="1639.50" y="1869.60" font-size="52" font-weight="400" fill="#4b4b4d" textLength="29.90" lengthAdjust="spacingAndGlyphs" stroke="#4b4b4d" stroke-width="0.94" stroke-linejoin="round" stroke-miterlimit="2.5">%</tspan></text>
<text style="font-family:'Liberation Sans', sans-serif"><tspan x="1567.31" y="1966.00" font-size="52.0" font-weight="700" fill="#4b4b4d" textLength="21.56" lengthAdjust="spacingAndGlyphs">4</tspan><tspan x="1589.87" y="1966.00" font-size="52" font-weight="400" fill="#4b4b4d" textLength="31.60" lengthAdjust="spacingAndGlyphs" stroke="#4b4b4d" stroke-width="0.94" stroke-linejoin="round" stroke-miterlimit="2.5">%</tspan></text>
<text style="font-family:'Liberation Sans', sans-serif"><tspan x="1566.36" y="2043.90" font-size="52.0" font-weight="700" fill="#4b4b4d" textLength="54.06" lengthAdjust="spacingAndGlyphs">0,2</tspan><tspan x="1620.07" y="2043.90" font-size="52" font-weight="400" fill="#4b4b4d" textLength="31.70" lengthAdjust="spacingAndGlyphs" stroke="#4b4b4d" stroke-width="0.94" stroke-linejoin="round" stroke-miterlimit="2.5">%</tspan></text>
<text x="1707.54" y="1726.40" font-size="34.5" font-weight="400" fill="#333333" textLength="166.96" lengthAdjust="spacingAndGlyphs" style="font-family:'Liberation Sans', sans-serif;" stroke="#333333" stroke-width="0.75" stroke-linejoin="round" stroke-miterlimit="2.5">қазақша</text>
<text x="1708.76" y="1803.90" font-size="34.5" font-weight="400" fill="#333333" textLength="152.84" lengthAdjust="spacingAndGlyphs" style="font-family:'Liberation Sans', sans-serif;" stroke="#333333" stroke-width="0.75" stroke-linejoin="round" stroke-miterlimit="2.5">орысша</text>
<text x="1707.66" y="1861.70" font-size="34.5" font-weight="400" fill="#333333" textLength="437.14" lengthAdjust="spacingAndGlyphs" style="font-family:'Liberation Sans', sans-serif;" stroke="#333333" stroke-width="0.75" stroke-linejoin="round" stroke-miterlimit="2.5">қазақша және орысша</text>
<text x="1708.50" y="1897.50" font-size="34.5" font-weight="400" fill="#333333" textLength="263.81" lengthAdjust="spacingAndGlyphs" style="font-family:'Liberation Sans', sans-serif;" stroke="#333333" stroke-width="0.75" stroke-linejoin="round" stroke-miterlimit="2.5">тең дәрежеде</text>
<text x="1708.01" y="1957.30" font-size="34.5" font-weight="400" fill="#333333" textLength="111.49" lengthAdjust="spacingAndGlyphs" style="font-family:'Liberation Sans', sans-serif;" stroke="#333333" stroke-width="0.75" stroke-linejoin="round" stroke-miterlimit="2.5">басқа</text>
<text x="1710.36" y="2034.00" font-size="34.5" font-weight="400" fill="#333333" textLength="495.01" lengthAdjust="spacingAndGlyphs" style="font-family:'Liberation Sans', sans-serif;" stroke="#333333" stroke-width="0.75" stroke-linejoin="round" stroke-miterlimit="2.5">жауап беруден бас тартты</text>
<rect x="0.00" y="2085.50" width="2362.00" height="197.50" fill="#f4f4f4"/>
<rect x="2086.50" y="2283.00" width="275.50" height="79.00" fill="#a7a8ab"/>
<text x="2104.68" y="2342.90" font-size="59.01" font-weight="700" fill="#ffffff" textLength="239.57" lengthAdjust="spacingAndGlyphs" style="font-family:'Liberation Sans', sans-serif;" stroke="#ffffff" stroke-width="2.0" stroke-linejoin="miter" stroke-miterlimit="2.5">08/2025</text>
<g fill="#1b4e88"><path d="M216.2 2140.2 H303 L248.8 2235.8 H216.2Z"/><path d="M311.8 2162.2 V2201.3 H289.1Z"/><path d="M280.1 2217.7 H311.8 V2235.8 H269.5Z"/></g>
<text x="330.33" y="2165.30" font-size="34.3" font-weight="400" fill="#1a1a1a" textLength="149.85" lengthAdjust="spacingAndGlyphs" style="font-family:'Liberation Sans', sans-serif;">KONRAD</text>
<text x="330.53" y="2200.70" font-size="34" font-weight="700" fill="#1a1a1a" textLength="199.10" lengthAdjust="spacingAndGlyphs" style="font-family:'Liberation Sans', sans-serif;" stroke="#1a1a1a" stroke-width="0.6" stroke-linejoin="round" stroke-miterlimit="2.5">ADENAUER</text>
<text x="331.27" y="2235.20" font-size="34.3" font-weight="700" fill="#1a1a1a" textLength="179.36" lengthAdjust="spacingAndGlyphs" style="font-family:'Liberation Sans', sans-serif;" stroke="#1a1a1a" stroke-width="0.6" stroke-linejoin="round" stroke-miterlimit="2.5">STIFTUNG</text>
<g fill="#666668">
<rect x="736.1" y="2159.7" width="5.6" height="63.1"/>
<path d="M748 2134.4 C775 2134 807 2146 807 2176.3 C807 2204 775 2218 746.9 2222.8 C772 2214 797.6 2200 797.6 2176.3 C797.6 2150 772 2139 748 2134.4Z"/>
<path d="M746.9 2159.7 C765 2162 782.1 2175 782.1 2192.8 C782.1 2209 766 2219 752.1 2222.8 C764 2216 774.9 2206 774.9 2192.8 C774.9 2177 761 2166 746.9 2159.7Z"/>
</g>
<circle cx="793.5" cy="2138" r="12.2" fill="#d9d9d9"/><circle cx="793.5" cy="2138" r="10.4" fill="#f26522"/>
<circle cx="776.3" cy="2166.3" r="10" fill="#e3e3e3"/><circle cx="776.3" cy="2166.3" r="8.7" fill="#f26522"/>
<text x="801.60" y="2222.80" font-size="54" font-weight="400" fill="#666668" textLength="303.26" lengthAdjust="spacingAndGlyphs" style="font-family:'Liberation Sans', sans-serif;">EMOSCOPE</text>
<text style="font-family:'Liberation Sans', sans-serif"><tspan x="1274.36" y="2204.40" font-size="96" font-weight="400" fill="#e41e20" textLength="75.59" lengthAdjust="spacingAndGlyphs" stroke="#e41e20" stroke-width="2.3" stroke-linejoin="miter" stroke-miterlimit="2.5">M</tspan><tspan x="1346.60" y="2203.60" font-size="76" font-weight="400" fill="#e41e20" textLength="133.60" lengthAdjust="spacingAndGlyphs" stroke="#e41e20" stroke-width="2.3" stroke-linejoin="round" stroke-miterlimit="2.5">edia</tspan></text>
<text x="1486.74" y="2204.60" font-size="81" font-weight="400" fill="#8c8c8c" textLength="128.16" lengthAdjust="spacingAndGlyphs" style="font-family:'Liberation Sans', sans-serif;" stroke="#8c8c8c" stroke-width="1.5" stroke-linejoin="round" stroke-miterlimit="2.5">Net</text>
<text x="1278.33" y="2238.80" font-size="18" font-weight="700" fill="#8c8c8c" textLength="340.53" lengthAdjust="spacingAndGlyphs" style="font-family:'Liberation Sans', sans-serif;">International Centre for Journalism</text>
<text x="1795.8" y="2219.6" font-size="79" font-weight="400" fill="#000000" stroke="#000000" stroke-width="2.8" stroke-linejoin="miter" textLength="356.4" lengthAdjust="spacingAndGlyphs" style="font-family:'Liberation Mono', monospace;letter-spacing:5.46px">PAPER<tspan font-style="italic">L</tspan>AB</text>
</svg>
</body></html>
